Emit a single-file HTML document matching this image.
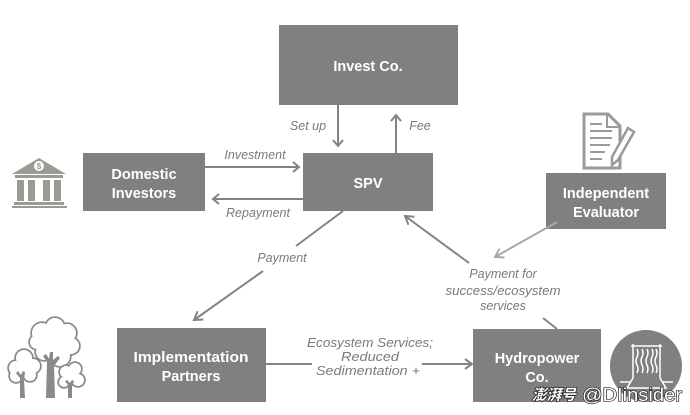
<!DOCTYPE html>
<html><head><meta charset="utf-8"><style>
html,body{margin:0;padding:0;background:#fff;}
svg{display:block;}
.box{fill:#808080;}
.bt{font-family:"Liberation Sans",sans-serif;font-weight:bold;font-size:14.5px;fill:#fff;text-anchor:middle;}
.lb{font-family:"Liberation Sans",sans-serif;font-style:italic;font-size:12.5px;fill:#7a7a7a;text-anchor:middle;}
.ln{stroke:#838383;stroke-width:2;fill:none;}
.ll{stroke:#a8a8a8;stroke-width:2;fill:none;}
</style></head><body>
<svg width="690" height="415" viewBox="0 0 690 415" xmlns="http://www.w3.org/2000/svg">
<!-- Boxes -->
<rect class="box" x="279" y="25" width="179" height="80"/>
<text class="bt" x="368" y="71" font-size="15">Invest Co.</text>
<rect class="box" x="83" y="153" width="122" height="58"/>
<text class="bt" x="144" y="179">Domestic</text>
<text class="bt" x="144" y="198">Investors</text>
<rect class="box" x="303" y="153" width="130" height="58"/>
<text class="bt" x="368" y="188">SPV</text>
<rect class="box" x="546" y="173" width="120" height="56"/>
<text class="bt" x="606" y="198">Independent</text>
<text class="bt" x="606" y="217">Evaluator</text>
<rect class="box" x="117" y="328" width="149" height="74"/>
<text class="bt" x="191" y="362" textLength="115" lengthAdjust="spacingAndGlyphs">Implementation</text>
<text class="bt" x="191" y="381">Partners</text>
<rect class="box" x="473" y="329" width="128" height="73"/>
<text class="bt" x="537" y="363">Hydropower</text>
<text class="bt" x="537" y="382">Co.</text>

<!-- Set up / Fee -->
<line class="ln" x1="338" y1="105" x2="338" y2="146"/>
<polyline class="ln" points="333,140 338,146 343,140"/>
<text class="lb" x="308" y="130">Set up</text>
<line class="ln" x1="396" y1="153" x2="396" y2="115"/>
<polyline class="ln" points="391,121 396,115 401,121"/>
<text class="lb" x="420" y="130">Fee</text>

<!-- Investment / Repayment -->
<line class="ln" x1="205" y1="167" x2="299" y2="167"/>
<polyline class="ln" points="293,162 299,167 293,172"/>
<text class="lb" x="255" y="159">Investment</text>
<line class="ln" x1="303" y1="199" x2="213" y2="199"/>
<polyline class="ln" points="219,194 213,199 219,204"/>
<text class="lb" x="258" y="217">Repayment</text>

<!-- Payment -->
<line class="ln" x1="343" y1="211" x2="296" y2="246"/>
<line class="ln" x1="263" y1="271" x2="194" y2="320"/>
<polyline class="ln" points="203.4,319.5 194,320 197.6,311.3"/>
<text class="lb" x="282" y="262">Payment</text>

<!-- Payment for success -->
<line class="ln" x1="469" y1="263" x2="405" y2="216"/>
<polyline class="ln" points="414.4,216.7 405,216 408.4,224.7"/>
<line class="ll" x1="557" y1="222" x2="495" y2="257"/>
<polyline class="ll" points="504.5,257.5 495,257 499.5,248.7"/>
<text class="lb" x="503" y="278">Payment for</text>
<text class="lb" x="503" y="295" textLength="115" lengthAdjust="spacingAndGlyphs">success/ecosystem</text>
<text class="lb" x="503" y="310">services</text>
<line class="ln" x1="543" y1="318" x2="557" y2="329"/>

<!-- Ecosystem -->
<line class="ln" x1="266" y1="364" x2="312" y2="364"/>
<line class="ln" x1="422" y1="364" x2="472" y2="364"/>
<polyline class="ln" points="465,359 472,364 465,369"/>
<text class="lb" x="370" y="347" font-size="13" textLength="126" lengthAdjust="spacingAndGlyphs">Ecosystem Services;</text>
<text class="lb" x="370" y="361" font-size="13" textLength="58" lengthAdjust="spacingAndGlyphs">Reduced</text>
<text class="lb" x="368" y="375" font-size="13" textLength="104" lengthAdjust="spacingAndGlyphs">Sedimentation +</text>

<!-- Bank icon -->
<g fill="#9b9b93">
<polygon points="39,158 12,174 66,174"/>
<rect x="15" y="175" width="48" height="3"/>
<rect x="17" y="180" width="7" height="21"/>
<rect x="28" y="180" width="7" height="21"/>
<rect x="43" y="180" width="7" height="21"/>
<rect x="54" y="180" width="7" height="21"/>
<rect x="14" y="202" width="50" height="3"/>
<rect x="12" y="206" width="55" height="2"/>
</g>
<circle cx="39" cy="166" r="5" fill="#fff"/>
<text x="39" y="169" font-family="Liberation Sans,sans-serif" font-size="8" font-weight="bold" fill="#9b9b93" text-anchor="middle">$</text>

<!-- Document icon -->
<g stroke="#9a9a9a" stroke-width="3" fill="none">
<path d="M584,114 L608,114 L620,126 L620,168 L584,168 Z"/>
<path d="M607,114 L607,127 L620,127" stroke-width="2"/>
<line x1="590" y1="124" x2="602" y2="124" stroke-width="2"/>
<line x1="590" y1="131" x2="612" y2="131" stroke-width="2"/>
<line x1="590" y1="138" x2="612" y2="138" stroke-width="2"/>
<line x1="590" y1="145" x2="610" y2="145" stroke-width="2"/>
<line x1="590" y1="152" x2="605" y2="152" stroke-width="2"/>
<line x1="590" y1="159" x2="602" y2="159" stroke-width="2"/>
</g>
<path d="M628,128 L634,132 L618,160 L612,165 L612,157 Z" fill="#fff" stroke="#9a9a9a" stroke-width="2.5"/>

<!-- Trees -->
<g stroke="#8a8a8a" stroke-width="3.5" fill="#8a8a8a">
<circle cx="42" cy="333" r="10"/><circle cx="55" cy="327" r="9"/><circle cx="67" cy="333" r="9"/><circle cx="71" cy="346" r="8"/><circle cx="60" cy="356" r="10"/><circle cx="44" cy="352" r="8"/><circle cx="37" cy="342" r="7"/><circle cx="55" cy="342" r="12"/>
</g>
<g fill="#fff">
<circle cx="42" cy="333" r="10"/><circle cx="55" cy="327" r="9"/><circle cx="67" cy="333" r="9"/><circle cx="71" cy="346" r="8"/><circle cx="60" cy="356" r="10"/><circle cx="44" cy="352" r="8"/><circle cx="37" cy="342" r="7"/><circle cx="55" cy="342" r="12"/>
</g>
<g stroke="#8a8a8a" stroke-width="3.5" fill="#8a8a8a">
<circle cx="16" cy="368" r="7"/><circle cx="24" cy="358" r="8"/><circle cx="33" cy="366" r="7"/><circle cx="30" cy="375" r="6"/><circle cx="16" cy="376" r="6"/><circle cx="24" cy="368" r="8"/>
<circle cx="66" cy="372" r="6"/><circle cx="75" cy="369" r="6"/><circle cx="78" cy="380" r="6"/><circle cx="64" cy="382" r="5"/><circle cx="71" cy="378" r="6"/>
</g>
<g fill="#fff">
<circle cx="16" cy="368" r="7"/><circle cx="24" cy="358" r="8"/><circle cx="33" cy="366" r="7"/><circle cx="30" cy="375" r="6"/><circle cx="16" cy="376" r="6"/><circle cx="24" cy="368" r="8"/>
<circle cx="66" cy="372" r="6"/><circle cx="75" cy="369" r="6"/><circle cx="78" cy="380" r="6"/><circle cx="64" cy="382" r="5"/><circle cx="71" cy="378" r="6"/>
</g>
<g fill="#8a8a8a">
<path d="M46,398 L47,362 L43,356 L46,354 L49,359 L50,352 L53,352 L53,360 L58,356 L60,358 L54,366 L55,398 Z"/>
<path d="M20,398 L20,378 L16,373 L18,371 L21,375 L23,371 L25,372 L24,380 L25,398 Z"/>
<path d="M68,398 L68,385 L65,381 L67,380 L70,383 L72,380 L74,381 L72,387 L72,398 Z"/>
</g>

<!-- Hydropower circle icon -->
<circle cx="646" cy="366" r="36" fill="#808080"/>
<g stroke="#fff" stroke-width="1.5" fill="none">
<line x1="633" y1="344" x2="633" y2="378"/>
<line x1="660" y1="344" x2="660" y2="378"/>
<line x1="631" y1="346" x2="662" y2="346"/>
<path d="M637,349 q2,4 0,8 q-2,4 0,8 q2,4 0,8"/>
<path d="M642,349 q2,4 0,8 q-2,4 0,8 q2,4 0,8"/>
<path d="M647,349 q2,4 0,8 q-2,4 0,8 q2,4 0,8"/>
<path d="M652,349 q2,4 0,8 q-2,4 0,8 q2,4 0,8"/>
<path d="M656,349 q2,4 0,8 q-2,4 0,8 q2,4 0,8"/>
<path d="M633,378 L627,388 L666,388 L660,378"/>
<line x1="620" y1="382" x2="630" y2="382"/>
<line x1="663" y1="382" x2="673" y2="382"/>
</g>

<!-- Watermark -->
<text x="532" y="400" font-family="Liberation Sans,'Noto Sans CJK SC',sans-serif" font-size="15" fill="#fff" stroke="#222" stroke-width="1.5" paint-order="stroke" font-style="italic" font-weight="bold" textLength="44" lengthAdjust="spacingAndGlyphs">澎湃号</text>
<text x="582" y="401" font-family="Liberation Sans,sans-serif" font-size="18" fill="#fff" stroke="#222" stroke-width="1.3" paint-order="stroke" textLength="100" lengthAdjust="spacingAndGlyphs">@DIinsider</text>
</svg>
</body></html>
